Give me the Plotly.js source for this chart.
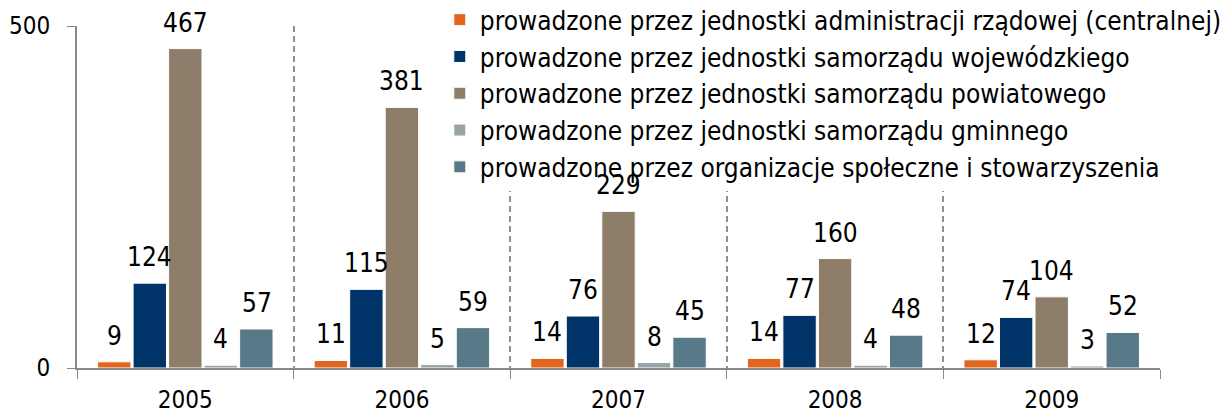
<!DOCTYPE html>
<html><head><meta charset="utf-8">
<script src="https://cdn.plot.ly/plotly-3.0.1.min.js"></script>
<style>html,body{margin:0;padding:0;background:#fff}#c{width:1228px;height:416px}</style>
</head><body><div id="c"></div>
<script>
const years = ['2005','2006','2007','2008','2009'];
const seriesNames = [
  'prowadzone przez jednostki administracji rządowej (centralnej)',
  'prowadzone przez jednostki samorządu wojewódzkiego',
  'prowadzone przez jednostki samorządu powiatowego',
  'prowadzone przez jednostki samorządu gminnego',
  'prowadzone przez organizacje społeczne i stowarzyszenia'
];
const rzadowe = [9, 11, 14, 14, 12];
const wojewodzkie = [124, 115, 76, 77, 74];
const powiatowe = [467, 381, 229, 160, 104];
const gminne = [4, 5, 8, 4, 3];
const organizacje = [57, 59, 45, 48, 52];
const colors = ['#E3661F', '#003468', '#8E7D69', '#97A3A6', '#587988'];

const FONT = 'DejaVu Sans Condensed';
const allSeries = [rzadowe, wojewodzkie, powiatowe, gminne, organizacje];
const traces = allSeries.map((vals, i) => ({
  type: 'bar', x: years, y: vals, name: seriesNames[i],
  legendgroup: 'g' + i,
  marker: {color: colors[i], line: {color: '#ffffff', width: 1}},
  hoverinfo: 'skip'
}));

const slot = 35.6;
const annotations = [];
allSeries.forEach((vals, i) => {
  vals.forEach((v, j) => {
    annotations.push({
      x: j, y: v, xref: 'x', yref: 'y', text: String(v),
      showarrow: false, xanchor: 'center', yanchor: 'bottom',
      xshift: (i - 2) * slot, yshift: 9,
      font: {family: FONT, size: 26, color: '#000'}
    });
  });
});

const layout = {
  width: 1228, height: 416,
  margin: {l: 77, r: 68, t: 26, b: 48, autoexpand: false},
  paper_bgcolor: '#fff', plot_bgcolor: '#fff',
  barmode: 'group', bargap: 0.18, bargroupgap: 0.06,
  font: {family: FONT, size: 24, color: '#000'},
  showlegend: true,
  legend: {x: 0.335, y: 1.087, xanchor: 'left', yanchor: 'top',
    bgcolor: 'rgba(255,255,255,1)', font: {family: FONT, size: 26, color: '#000'},
    tracegroupgap: 2, traceorder: 'normal', itemwidth: 30},
  xaxis: {type: 'category', range: [-0.5, 4.5], autorange: false,
    tickson: 'boundaries', ticks: 'outside', ticklen: 9,
    tickcolor: '#888', showline: true, linecolor: '#888', linewidth: 2,
    showgrid: true, gridcolor: '#8f8f8f', griddash: '6px,4px', gridwidth: 2,
    ticklabelstandoff: 9,
    tickfont: {family: FONT, size: 24, color: '#000'}, fixedrange: true},
  yaxis: {range: [0, 500], autorange: false, tickvals: [0, 500], ticks: 'outside', ticklen: 8,
    tickcolor: '#888', showline: true, linecolor: '#888', linewidth: 2,
    showgrid: false, zeroline: false, ticklabelstandoff: 12,
    tickfont: {family: FONT, size: 24, color: '#000'}, fixedrange: true},
  annotations: annotations
};
Plotly.newPlot('c', traces, layout, {displayModeBar: false, staticPlot: true});
</script></body></html>
